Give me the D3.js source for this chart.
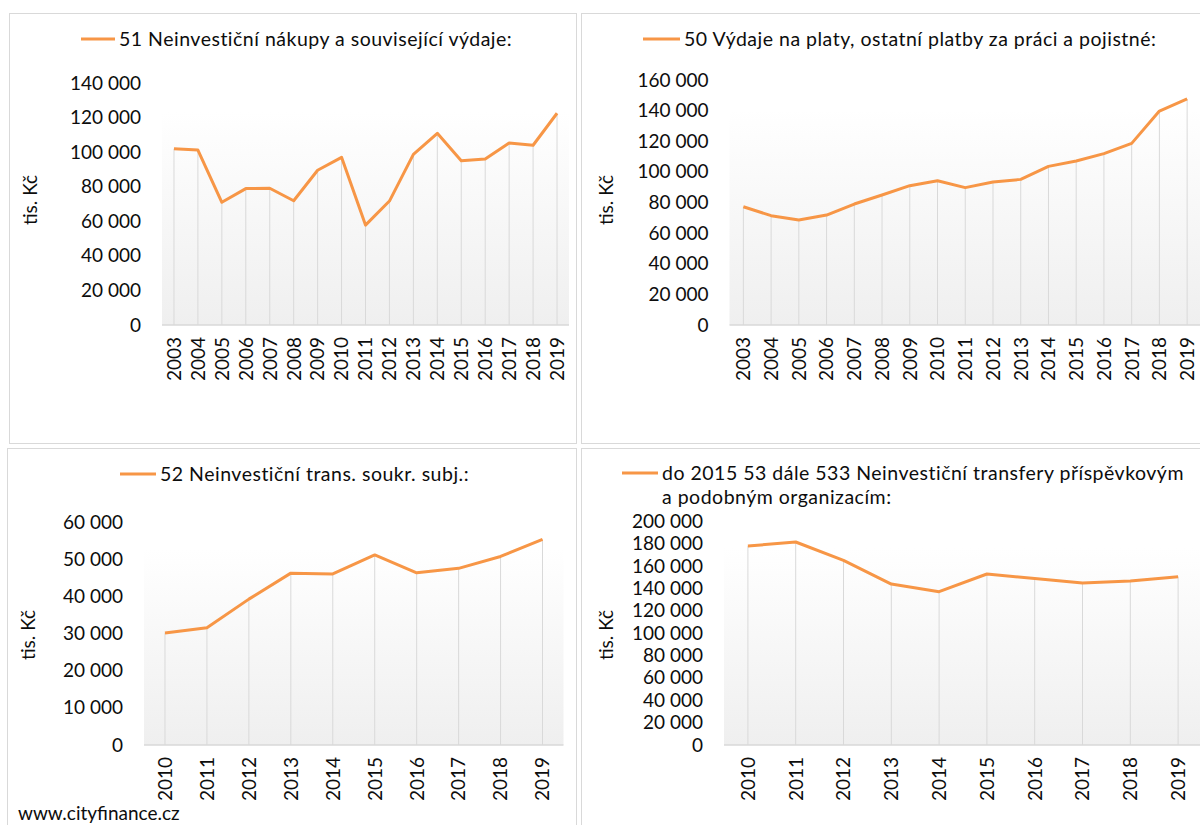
<!DOCTYPE html>
<html>
<head>
<meta charset="utf-8">
<script src="https://cdn.jsdelivr.net/npm/d3@7"></script>
<style>
  html, body { margin: 0; padding: 0; background: #fff; }
  svg { display: block; font-family: Lato, "Open Sans", sans-serif; }
</style>
</head>
<body>
<svg id="chart" width="1200" height="825"></svg>
<script>
// ---- data ----
const years2003 = ['2003','2004','2005','2006','2007','2008','2009','2010','2011','2012','2013','2014','2015','2016','2017','2018','2019'];
const years2010 = ['2010','2011','2012','2013','2014','2015','2016','2017','2018','2019'];

const values51 = [102000, 101200, 71000, 78900, 79100, 71900, 89500, 97000, 57800, 71700, 98700, 110900, 95000, 96000, 105300, 104000, 122500];
const values50 = [77200, 71400, 68600, 71800, 79000, 84900, 91000, 94200, 89700, 93400, 95100, 103600, 107100, 111900, 118600, 139700, 147600];
const values52 = [30200, 31600, 39300, 46300, 46100, 51200, 46400, 47600, 50800, 55400];
const values53 = [177900, 181500, 165100, 143900, 137100, 152900, 148800, 144800, 146600, 150500];

const ticks51 = [0, 20000, 40000, 60000, 80000, 100000, 120000, 140000];
const ticks50 = [0, 20000, 40000, 60000, 80000, 100000, 120000, 140000, 160000];
const ticks52 = [0, 10000, 20000, 30000, 40000, 50000, 60000];
const ticks53 = [0, 20000, 40000, 60000, 80000, 100000, 120000, 140000, 160000, 180000, 200000];

const legend51 = ['51 Neinvestiční nákupy a související výdaje:'];
const legend50 = ['50 Výdaje na platy, ostatní platby za práci a pojistné:'];
const legend52 = ['52 Neinvestiční trans. soukr. subj.:'];
const legend53 = ['do 2015 53 dále 533 Neinvestiční transfery příspěvkovým', 'a podobným organizacím:'];

const Y_LABEL = 'tis. Kč';
const SOURCE = 'www.cityfinance.cz';

// ---- styling ----
const LINE_COLOR = '#f79646';
const GRID_COLOR = '#d9d9d9';
const TEXT_COLOR = '#0d0d0d';

const fmt = d3.formatLocale({ decimal: ',', thousands: ' ', grouping: [3], currency: ['', ''] }).format(',d');

const svg = d3.select('#chart');

const defs = svg.append('defs');
const grad = defs.append('linearGradient')
  .attr('id', 'plotFill')
  .attr('x1', 0).attr('y1', 0).attr('x2', 0).attr('y2', 1);
grad.append('stop').attr('offset', '0%').attr('stop-color', '#ffffff');
grad.append('stop').attr('offset', '12%').attr('stop-color', '#ffffff');
grad.append('stop').attr('offset', '100%').attr('stop-color', '#efefef');

/*
 * One bordered panel with a single orange line series.
 */
function drawPanel(cfg) {
  const g = svg.append('g');

  // outer border
  g.append('rect')
    .attr('x', cfg.box[0] + 0.5).attr('y', cfg.box[1] + 0.5)
    .attr('width', cfg.box[2] - cfg.box[0]).attr('height', cfg.box[3] - cfg.box[1])
    .attr('fill', 'none')
    .attr('stroke', GRID_COLOR)
    .attr('stroke-width', 1);

  const x = d3.scaleBand()
    .domain(cfg.categories)
    .range([cfg.plot[0], cfg.plot[1]])
    .padding(0);
  const cx = d => x(d) + x.bandwidth() / 2;

  const y = d3.scaleLinear()
    .domain([0, d3.max(cfg.ticks)])
    .range([cfg.plot[3], cfg.plot[2]]);

  // plot area fill
  g.append('rect')
    .attr('x', cfg.plot[0]).attr('y', cfg.plot[2])
    .attr('width', cfg.plot[1] - cfg.plot[0]).attr('height', cfg.plot[3] - cfg.plot[2])
    .attr('fill', 'url(#plotFill)');

  const pts = cfg.categories.map((c, i) => ({ c, v: cfg.values[i] }));

  // drop lines
  g.append('g')
    .selectAll('line')
    .data(pts)
    .enter()
    .append('line')
      .attr('x1', d => cx(d.c)).attr('x2', d => cx(d.c))
      .attr('y1', d => y(d.v)).attr('y2', y(0))
      .attr('stroke', GRID_COLOR)
      .attr('stroke-width', 1);

  // base line
  g.append('line')
    .attr('x1', cfg.plot[0]).attr('x2', cfg.plot[1])
    .attr('y1', y(0)).attr('y2', y(0))
    .attr('stroke', GRID_COLOR)
    .attr('stroke-width', 1.3);

  // y axis labels
  const yAxis = g.append('g')
    .attr('transform', `translate(${cfg.plot[0]},0)`)
    .call(d3.axisLeft(y).tickValues(cfg.ticks).tickFormat(fmt).tickSize(0).tickPadding(21));
  yAxis.select('.domain').remove();
  yAxis.selectAll('text')
    .attr('fill', TEXT_COLOR)
    .style('font-size', '19px')
    .style('font-family', 'Lato, sans-serif');

  // x axis labels (rotated)
  const xAxis = g.append('g')
    .attr('transform', `translate(0,${y(0)})`)
    .call(d3.axisBottom(x).tickSize(0).tickPadding(0));
  xAxis.select('.domain').remove();
  xAxis.selectAll('text')
    .attr('fill', TEXT_COLOR)
    .style('font-size', '19px')
    .style('font-family', 'Lato, sans-serif')
    .attr('transform', 'rotate(-90)')
    .attr('text-anchor', 'end')
    .attr('dy', '0.36em')
    .attr('x', -12)
    .attr('y', 0);

  // series line
  g.append('path')
    .datum(pts)
    .attr('fill', 'none')
    .attr('stroke', LINE_COLOR)
    .attr('stroke-width', 3)
    .attr('stroke-linejoin', 'round')
    .attr('d', d3.line().x(d => cx(d.c)).y(d => y(d.v)));

  // y axis title
  g.append('text')
    .attr('transform', `translate(${cfg.yLabel[0]},${cfg.yLabel[1]}) rotate(-90)`)
    .attr('text-anchor', 'middle')
    .attr('dy', '0.35em')
    .attr('fill', TEXT_COLOR)
    .style('font-size', '19px')
    .text(Y_LABEL);

  // legend
  g.append('line')
    .attr('x1', cfg.legend[0]).attr('x2', cfg.legend[1])
    .attr('y1', cfg.legend[2]).attr('y2', cfg.legend[2])
    .attr('stroke', LINE_COLOR)
    .attr('stroke-width', 3);
  g.append('g')
    .selectAll('text')
    .data(cfg.legendText)
    .enter()
    .append('text')
      .attr('x', cfg.legend[1] + 4)
      .attr('y', (d, i) => cfg.legend[2] + i * 24)
      .attr('dy', '0.35em')
      .attr('fill', TEXT_COLOR)
      .style('font-size', '19.5px')
      .style('letter-spacing', '0.5px')
      .text(d => d);
}

drawPanel({
  box: [9, 13, 576, 443],
  plot: [162, 569, 83, 325],
  categories: years2003, values: values51, ticks: ticks51,
  yLabel: [30, 200],
  legend: [81, 115, 39], legendText: legend51
});

drawPanel({
  box: [581, 13, 1215, 443],
  plot: [729.5, 1201, 80, 325],
  categories: years2003, values: values50, ticks: ticks50,
  yLabel: [606, 200],
  legend: [643, 680, 39], legendText: legend50
});

drawPanel({
  box: [7, 448, 576, 835],
  plot: [144, 563.5, 522.3, 745],
  categories: years2010, values: values52, ticks: ticks52,
  yLabel: [28, 635],
  legend: [120, 156, 474], legendText: legend52
});

drawPanel({
  box: [581, 448, 1215, 835],
  plot: [724, 1202, 521.3, 745],
  categories: years2010, values: values53, ticks: ticks53,
  yLabel: [606, 635],
  legend: [622, 658, 473], legendText: legend53
});

svg.append('text')
  .attr('x', 18)
  .attr('y', 820)
  .attr('fill', TEXT_COLOR)
  .style('font-size', '19px')
  .text(SOURCE);
</script>
</body>
</html>
